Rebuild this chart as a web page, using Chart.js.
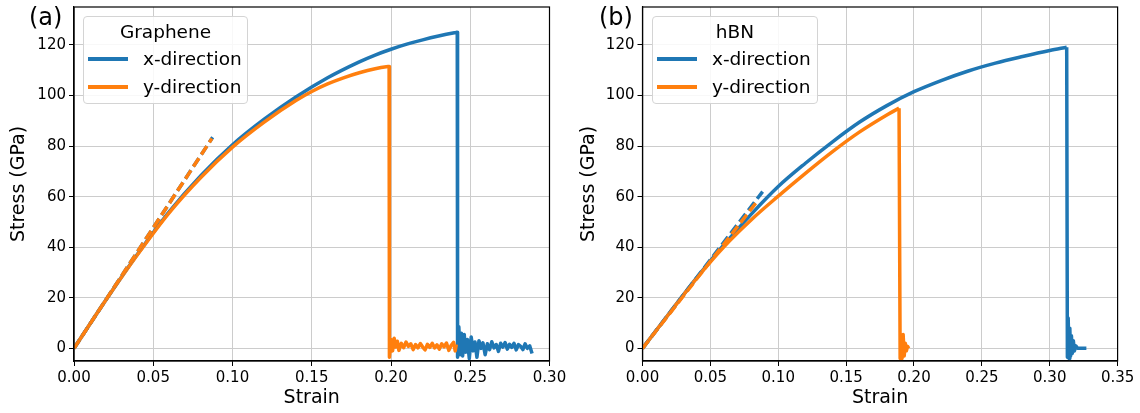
<!DOCTYPE html>
<html><head><meta charset="utf-8">
<script src="https://cdn.jsdelivr.net/npm/chart.js@4/dist/chart.umd.min.js"></script>
<style>
body{margin:0;background:#fff;width:1140px;height:413px;overflow:hidden;font-family:"DejaVu Sans",sans-serif;position:relative;}
.wrap{position:absolute;top:0;width:570px;height:413px;}
canvas{position:absolute;left:0;top:0;}
.panel{position:absolute;left:29px;top:5px;font-size:24px;line-height:24px;color:#000;}
.legend{position:absolute;top:16px;height:88px;background:rgba(255,255,255,0.85);border:1px solid #d4d4d4;border-radius:4px;box-sizing:border-box;font-size:18.5px;color:#000;}
.legend .title{position:absolute;left:0;right:0;top:4px;line-height:22px;text-align:center;}
.legend .row{position:absolute;left:0;right:0;height:22px;line-height:22px;}
.legend .h{position:absolute;left:4px;width:40px;height:4px;top:9px;}
.legend .t{position:absolute;left:59px;top:0;}
</style>
</head><body>
<div class="wrap" id="wa" style="left:0">
  <canvas id="ca" width="570" height="413"></canvas>
  <div class="panel">(a)</div>
  <div class="legend" style="left:83px;width:165px;">
    <div class="title">Graphene</div>
    <div class="row" style="top:31px"><div class="h" style="background:#1f77b4"></div><div class="t">x-direction</div></div>
    <div class="row" style="top:59px"><div class="h" style="background:#ff7f0e"></div><div class="t">y-direction</div></div>
  </div>
</div>
<div class="wrap" id="wb" style="left:570px">
  <canvas id="cb" width="570" height="413"></canvas>
  <div class="panel">(b)</div>
  <div class="legend" style="left:82px;width:166px;">
    <div class="title">hBN</div>
    <div class="row" style="top:31px"><div class="h" style="background:#1f77b4"></div><div class="t">x-direction</div></div>
    <div class="row" style="top:59px"><div class="h" style="background:#ff7f0e"></div><div class="t">y-direction</div></div>
  </div>
</div>
<script>
// ---------- Tick labels ----------
const yTicks = [0, 20, 40, 60, 80, 100, 120];
const xTicksA = [0, 0.05, 0.10, 0.15, 0.20, 0.25, 0.30];
const xLabelsA = ['0.00','0.05','0.10','0.15','0.20','0.25','0.30'];
const xTicksB = [0, 0.05, 0.10, 0.15, 0.20, 0.25, 0.30, 0.35];
const xLabelsB = ['0.00','0.05','0.10','0.15','0.20','0.25','0.30','0.35'];

// ---------- (a) Graphene ----------
const grXStrain = [0, 0.02, 0.04, 0.06, 0.08, 0.10, 0.12, 0.14, 0.16, 0.18, 0.19, 0.20, 0.21, 0.22, 0.23, 0.24, 0.2418];
const grXStress = [0, 19.0, 37.2, 54.0, 68.3, 80.5, 90.6, 99.4, 107.0, 113.3, 116.0, 118.3, 120.3, 122.0, 123.5, 124.8, 125.0];
const grXPostStrain = [0.2418, 0.2420, 0.2428, 0.2436, 0.2444, 0.2452, 0.2462, 0.2472, 0.2482, 0.2494, 0.2506, 0.2518, 0.2530, 0.2542, 0.2555, 0.2568, 0.2580, 0.2594, 0.2608, 0.2622, 0.2636, 0.2650, 0.2664, 0.2678, 0.2692, 0.2706, 0.2720, 0.2734, 0.2748, 0.2762, 0.2776, 0.2790, 0.2804, 0.2818, 0.2832, 0.2846, 0.2860, 0.2875, 0.2890];
const grXPostStress = [125.0, -3.5, 8.5, -2.5, 6.0, -3.0, 5.5, -1.5, 3.5, -4.0, 4.5, -1.0, 2.5, -3.5, 3.0, 0.0, 2.2, -2.5, 1.8, -0.5, 2.6, 0.2, 1.5, -1.2, 2.0, 0.5, 2.3, -0.3, 1.6, 0.4, 2.0, -0.6, 1.5, 0.8, -0.5, 1.8, 0.0, 1.0, -2.0];
const grYStrain = [0, 0.02, 0.04, 0.06, 0.08, 0.10, 0.12, 0.14, 0.15, 0.16, 0.17, 0.18, 0.19, 0.197, 0.1988];
const grYStress = [0, 19.0, 37.0, 53.6, 67.6, 79.6, 89.5, 98.0, 101.6, 104.6, 107.0, 109.0, 110.6, 111.4, 111.5];
const grYPostStrain = [0.1988, 0.1990, 0.2000, 0.2010, 0.2020, 0.2030, 0.2040, 0.2050, 0.2065, 0.2080, 0.2095, 0.2110, 0.2125, 0.2140, 0.2155, 0.2170, 0.2185, 0.2200, 0.2215, 0.2230, 0.2245, 0.2260, 0.2275, 0.2290, 0.2305, 0.2320, 0.2335, 0.2350, 0.2365, 0.2380, 0.2395, 0.2405, 0.2412];
const grYPostStress = [111.5, -3.5, 3.5, -1.0, 4.0, 0.5, 2.8, -0.8, 2.0, 0.3, 2.5, 0.8, 1.8, -0.5, 1.5, 0.2, 1.9, 0.5, -0.6, 1.6, 0.4, 2.0, 0.2, 1.4, -0.3, 1.8, 0.6, 2.1, -0.8, 1.2, 2.4, -1.0, 1.5];
const grXFitStrain = [0, 0.0875];
const grXFitStress = [0, 83.5];
const grYFitStrain = [0, 0.087];
const grYFitStress = [0, 83.0];

// ---------- (b) hBN ----------
const bnXStrain = [0, 0.02, 0.04, 0.06, 0.08, 0.10, 0.12, 0.14, 0.16, 0.18, 0.20, 0.22, 0.24, 0.26, 0.28, 0.30, 0.3125];
const bnXStress = [0, 14.1, 28.0, 41.0, 53.0, 64.0, 73.2, 81.7, 89.5, 96.0, 101.5, 105.9, 109.7, 112.8, 115.4, 117.8, 119.1];
const bnXPostStrain = [0.3125, 0.3130, 0.3136, 0.3142, 0.3148, 0.3154, 0.3160, 0.3166, 0.3174, 0.3182, 0.3192, 0.3205, 0.3240, 0.3270];
const bnXPostStress = [119.1, -3.5, 12.0, -4.0, 8.0, -3.0, 5.0, -2.0, 3.0, -1.0, 1.0, 0.0, 0.0, 0.0];
const bnYStrain = [0, 0.02, 0.04, 0.06, 0.08, 0.10, 0.12, 0.14, 0.16, 0.18, 0.189];
const bnYStress = [0, 14.0, 27.8, 40.2, 50.8, 60.2, 69.2, 77.8, 85.6, 92.3, 95.0];
const bnYPostStrain = [0.189, 0.1898, 0.1905, 0.1912, 0.1920, 0.1928, 0.1936, 0.1944, 0.1952, 0.1962];
const bnYPostStress = [95.0, -4.0, 3.0, -4.0, 5.5, -3.0, 2.0, -1.0, 0.8, 0.0];
const bnXFitStrain = [0, 0.0885];
const bnXFitStress = [0, 62.0];
const bnYFitStrain = [0, 0.085];
const bnYFitStress = [0, 58.5];

const BLUE = '#1f77b4', ORANGE = '#ff7f0e';
const pts = (xs, ys) => xs.map((x, i) => ({x: x, y: ys[i]}));
const FONT = '"DejaVu Sans", sans-serif';

function ds(xs, ys, color, order, opts) {
  return Object.assign({
    data: pts(xs, ys), showLine: true, borderColor: color, backgroundColor: color,
    borderWidth: 3.5, pointRadius: 0, order: order, borderJoinStyle: 'round', borderCapStyle: 'butt', fill: false
  }, opts || {});
}

const frame = {
  id: 'frame',
  afterDatasetsDraw(chart) {
    const {ctx, chartArea: a} = chart;
    ctx.save();
    ctx.strokeStyle = '#000'; ctx.lineWidth = 1.2;
    ctx.strokeRect(a.left, a.top, a.right - a.left, a.bottom - a.top);
    ctx.restore();
  }
};

function makeChart(id, sets, xTicks, xLabels, xMax, yWidth, padRight) {
  return new Chart(document.getElementById(id), {
    type: 'scatter',
    data: { datasets: sets },
    options: {
      responsive: false, animation: false, devicePixelRatio: 1,
      layout: { padding: { left: 0, top: 7, right: padRight, bottom: 0 } },
      plugins: { legend: { display: false }, tooltip: { enabled: false } },
      scales: {
        x: {
          type: 'linear', min: 0, max: xMax,
          afterBuildTicks: s => { s.ticks = xTicks.map(v => ({value: v})); },
          afterFit: s => { s.height = 52; s.paddingLeft = 0; s.paddingRight = 0; },
          ticks: { callback: (v, i) => xLabels[i], font: { family: FONT, size: 15 }, color: '#000', padding: 3, maxRotation: 0, autoSkip: false },
          grid: { color: '#cccccc', lineWidth: 1, tickColor: '#000', tickLength: 5 },
          border: { color: '#000', width: 1.2 },
          title: { display: true, text: 'Strain', font: { family: FONT, size: 19 }, color: '#000', padding: { top: 0, bottom: 4 } }
        },
        y: {
          type: 'linear', min: -5, max: 135,
          afterBuildTicks: s => { s.ticks = yTicks.map(v => ({value: v})); },
          afterFit: s => { s.width = yWidth; s.paddingTop = 0; s.paddingBottom = 0; },
          ticks: { callback: v => String(v), font: { family: FONT, size: 15 }, color: '#000', padding: 3, autoSkip: false },
          grid: { color: '#cccccc', lineWidth: 1, tickColor: '#000', tickLength: 5 },
          border: { color: '#000', width: 1.2 },
          title: { display: true, text: 'Stress (GPa)', font: { family: FONT, size: 19 }, color: '#000', padding: { top: 8, bottom: 0 } }
        }
      }
    },
    plugins: [frame]
  });
}

makeChart('ca', [
  ds(grXStrain, grXStress, BLUE, 6, { cubicInterpolationMode: 'monotone' }),
  ds(grXPostStrain, grXPostStress, BLUE, 6),
  ds(grYStrain, grYStress, ORANGE, 4, { cubicInterpolationMode: 'monotone' }),
  ds(grYPostStrain, grYPostStress, ORANGE, 4),
  ds(grXFitStrain, grXFitStress, BLUE, 2, { borderDash: [10, 4.5] }),
  ds(grYFitStrain, grYFitStress, ORANGE, 1, { borderDash: [10, 4.5] })
], xTicksA, xLabelsA, 0.30, 74, 20.5);

makeChart('cb', [
  ds(bnXStrain, bnXStress, BLUE, 6, { cubicInterpolationMode: 'monotone' }),
  ds(bnXPostStrain, bnXPostStress, BLUE, 6),
  ds(bnYStrain, bnYStress, ORANGE, 4, { cubicInterpolationMode: 'monotone' }),
  ds(bnYPostStrain, bnYPostStress, ORANGE, 4),
  ds(bnXFitStrain, bnXFitStress, BLUE, 2, { borderDash: [10, 4.5] }),
  ds(bnYFitStrain, bnYFitStress, ORANGE, 1, { borderDash: [10, 4.5] })
], xTicksB, xLabelsB, 0.35, 72.5, 22.4);
</script>
</body></html>
